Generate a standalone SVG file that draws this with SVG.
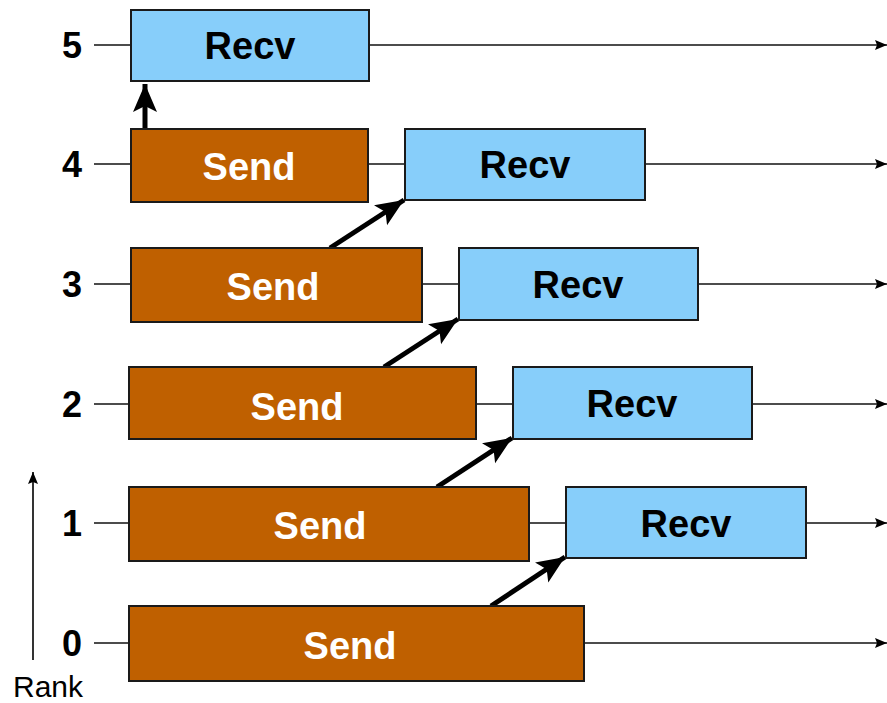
<svg xmlns="http://www.w3.org/2000/svg" width="887" height="703" viewBox="0 0 887 703">
<defs>
<style>
.send{fill:#BF6000;stroke:#1a1a1a;stroke-width:2}
.recv{fill:#87CEFA;stroke:#1a1a1a;stroke-width:2}
.tl{stroke:#111;stroke-width:1.6;fill:none}
.tick{stroke:#111;stroke-width:1.6;fill:none}
.msg{stroke:#000;stroke-width:5;fill:none}
.lbl{font-family:"Liberation Sans",Arial,sans-serif;font-weight:bold;font-size:38px;text-anchor:middle}
.st{fill:#fff}
.rt{fill:#000}
.num{font-family:"Liberation Sans",Arial,sans-serif;font-weight:bold;font-size:36px;text-anchor:middle;fill:#000}
</style>
<marker id="ah" markerUnits="userSpaceOnUse" markerWidth="14" markerHeight="12" refX="12" refY="5" orient="auto">
<path d="M0,0 L12,5 L0,10 L2,5 z" fill="#000"/>
</marker>
<marker id="big" markerUnits="userSpaceOnUse" markerWidth="32" markerHeight="26" refX="28" refY="12" orient="auto">
<path d="M0,0 L28,12 L0,24 L6,12 z" fill="#000"/>
</marker>
</defs>
<g id="connectors">
<line class="tick" x1="94" y1="45" x2="131" y2="45"/>
<line class="tl" x1="369" y1="45" x2="887" y2="45" marker-end="url(#ah)"/>
<line class="tick" x1="94" y1="164" x2="131" y2="164"/>
<line class="tl" x1="368" y1="164" x2="405" y2="164"/>
<line class="tl" x1="645" y1="164" x2="887" y2="164" marker-end="url(#ah)"/>
<line class="tick" x1="94" y1="284" x2="131" y2="284"/>
<line class="tl" x1="422" y1="284" x2="459" y2="284"/>
<line class="tl" x1="698" y1="284" x2="887" y2="284" marker-end="url(#ah)"/>
<line class="tick" x1="94" y1="404" x2="129" y2="404"/>
<line class="tl" x1="476" y1="404" x2="513" y2="404"/>
<line class="tl" x1="752" y1="404" x2="887" y2="404" marker-end="url(#ah)"/>
<line class="tick" x1="94" y1="523" x2="129" y2="523"/>
<line class="tl" x1="529" y1="523" x2="566" y2="523"/>
<line class="tl" x1="806" y1="523" x2="887" y2="523" marker-end="url(#ah)"/>
<line class="tick" x1="94" y1="643" x2="129" y2="643"/>
<line class="tl" x1="584" y1="643" x2="887" y2="643" marker-end="url(#ah)"/>
<line class="msg" x1="145" y1="129" x2="145" y2="84" marker-end="url(#big)"/>
<line class="msg" x1="330" y1="248" x2="404" y2="200" marker-end="url(#big)"/>
<line class="msg" x1="384" y1="367" x2="458" y2="319" marker-end="url(#big)"/>
<line class="msg" x1="437" y1="487" x2="512" y2="438" marker-end="url(#big)"/>
<line class="msg" x1="491" y1="606" x2="565" y2="557" marker-end="url(#big)"/>
<line x1="33" y1="660" x2="33" y2="472" stroke="#000" stroke-width="1.6" marker-end="url(#ah)"/>
</g>
<g id="rank-axis">
<text x="48" y="697" font-family="Liberation Sans, Arial, sans-serif" font-size="30" text-anchor="middle" fill="#000">Rank</text>
</g>
<g id="rank-labels">
<text class="num" x="72" y="58">5</text>
<text class="num" x="72" y="177">4</text>
<text class="num" x="72" y="297">3</text>
<text class="num" x="72" y="417">2</text>
<text class="num" x="72" y="536">1</text>
<text class="num" x="72" y="656">0</text>
</g>
<g id="recv5"><rect class="recv" x="131" y="10" width="238" height="71"/><text class="lbl rt" x="250" y="59">Recv</text></g>
<g id="send4"><rect class="send" x="131" y="129" width="237" height="73"/><text class="lbl st" x="249" y="180">Send</text></g>
<g id="recv4"><rect class="recv" x="405" y="129" width="240" height="71"/><text class="lbl rt" x="525" y="178">Recv</text></g>
<g id="send3"><rect class="send" x="131" y="248" width="291" height="74"/><text class="lbl st" x="273" y="300">Send</text></g>
<g id="recv3"><rect class="recv" x="459" y="248" width="239" height="72"/><text class="lbl rt" x="578" y="298">Recv</text></g>
<g id="send2"><rect class="send" x="129" y="367" width="347" height="72"/><text class="lbl st" x="297" y="420">Send</text></g>
<g id="recv2"><rect class="recv" x="513" y="367" width="239" height="72"/><text class="lbl rt" x="632" y="417">Recv</text></g>
<g id="send1"><rect class="send" x="129" y="487" width="400" height="74"/><text class="lbl st" x="320" y="539">Send</text></g>
<g id="recv1"><rect class="recv" x="566" y="487" width="240" height="71"/><text class="lbl rt" x="686" y="537">Recv</text></g>
<g id="send0"><rect class="send" x="129" y="606" width="455" height="75"/><text class="lbl st" x="350" y="659">Send</text></g>
</svg>
